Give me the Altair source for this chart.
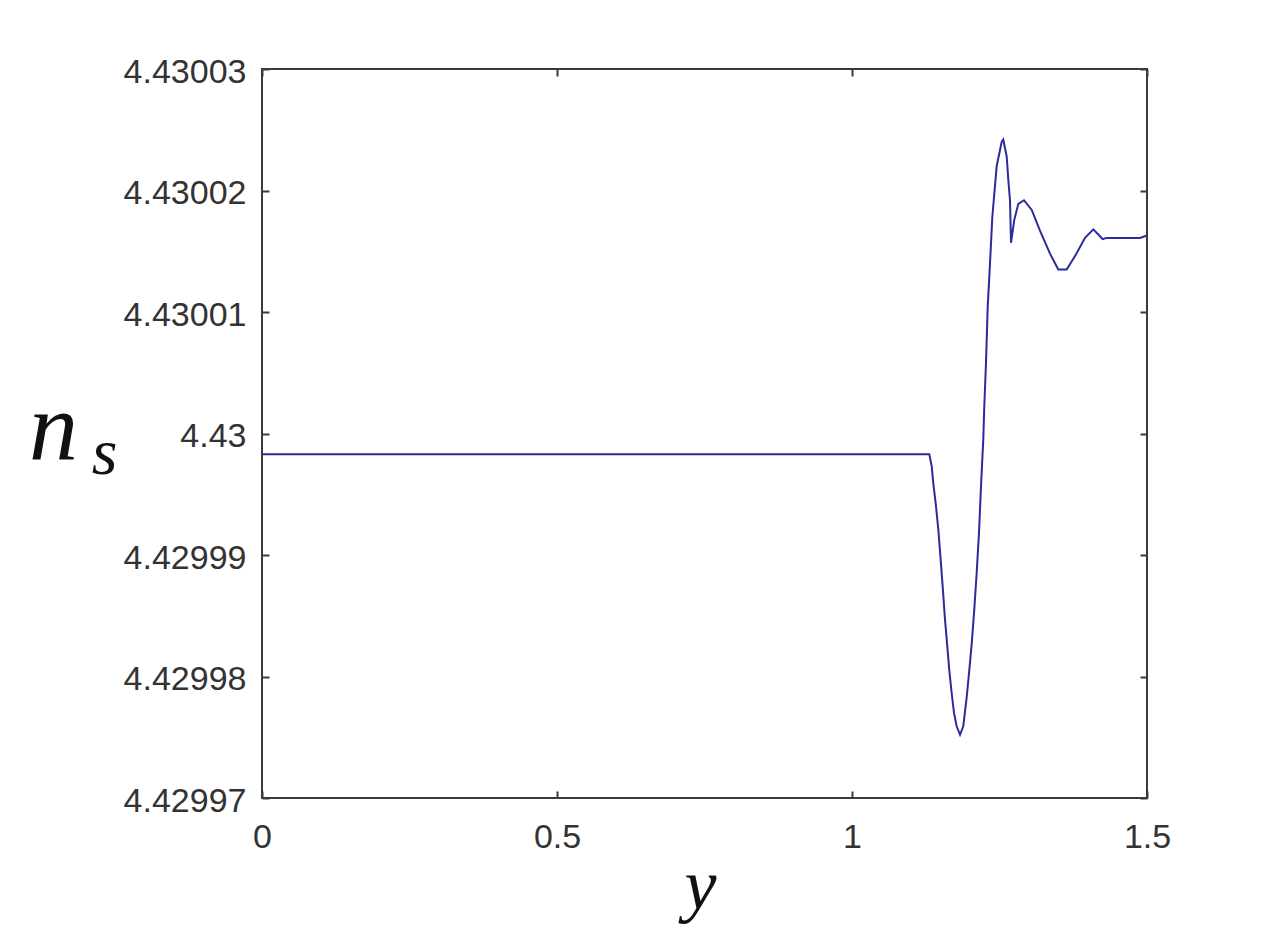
import altair as alt
import pandas as pd

# Curve values
y_pos = [0.0, 1.1310, 1.1351, 1.1378, 1.1424, 1.1463, 1.1503, 1.1537, 1.1576,
         1.1615, 1.1649, 1.1690, 1.1729, 1.1774, 1.1831, 1.1886, 1.1944, 1.1988,
         1.2029, 1.2068, 1.2113, 1.2152, 1.2186, 1.2225, 1.2242, 1.2271, 1.2300,
         1.2339, 1.2378, 1.2452, 1.2537, 1.2564, 1.2622, 1.2649, 1.2678, 1.2695,
         1.2751, 1.2819, 1.2915, 1.3046, 1.3186, 1.3356, 1.3496, 1.3639, 1.3780,
         1.3949, 1.4090, 1.4191, 1.4249, 1.4317, 1.4881, 1.5]
n_s = [4.4299983, 4.4299983, 4.4299973, 4.4299959, 4.4299940, 4.4299921,
       4.4299896, 4.4299874, 4.4299847, 4.4299825, 4.4299805, 4.4299786,
       4.4299770, 4.4299759, 4.4299752, 4.4299759, 4.4299783, 4.4299805,
       4.4299827, 4.4299852, 4.4299885, 4.4299918, 4.4299956, 4.4299995,
       4.4300022, 4.4300058, 4.4300104, 4.4300140, 4.4300178, 4.4300220,
       4.4300240, 4.4300242, 4.4300228, 4.4300209, 4.4300192, 4.4300157,
       4.4300176, 4.4300189, 4.4300192, 4.4300184, 4.4300167, 4.4300148,
       4.4300135, 4.4300135, 4.4300146, 4.4300161, 4.4300168, 4.4300163,
       4.4300160, 4.4300161, 4.4300161, 4.4300163]

x_ticks = [0, 0.5, 1, 1.5]
y_ticks = [4.42997, 4.42998, 4.42999, 4.43, 4.43001, 4.43002, 4.43003]

df = pd.DataFrame({"y": y_pos, "ns": n_s})

AX = "#3a3a3a"
TICK = 7
label_font = "Liberation Sans"
title_font = "Liberation Serif"

xs = alt.Scale(domain=[0, 1.5], nice=False, zero=False)
ys = alt.Scale(domain=[4.42997, 4.43003], nice=False, zero=False)

base = alt.Chart(df)

main = base.mark_line(color="#2b2b9c", strokeWidth=2).encode(
    x=alt.X("y:Q", scale=xs, axis=alt.Axis(
        orient="bottom", values=x_ticks, format="~g", domain=False,
        ticks=True, tickSize=TICK, offset=-TICK, tickColor=AX, tickWidth=2,
        grid=False, labelFont=label_font, labelFontSize=34, labelColor="#333333",
        labelPadding=22, labelFlush=False,
        title="y", titleFont=title_font, titleFontStyle="italic",
        titleFontWeight="normal", titleFontSize=72, titleColor="#111111",
        titleX=438, titleY=117, titleAlign="center", titleBaseline="alphabetic")),
    y=alt.Y("ns:Q", scale=ys, axis=alt.Axis(
        orient="left", values=y_ticks, format=".5~f", domain=False,
        ticks=True, tickSize=TICK, offset=-TICK, tickColor=AX, tickWidth=2,
        grid=False, labelFont=label_font, labelFontSize=34, labelColor="#333333",
        labelPadding=16, labelOffset=3, labelFlush=False,
        title="n", titleFont=title_font, titleFontStyle="italic",
        titleFontWeight="normal", titleFontSize=98, titleColor="#111111",
        titleAngle=0, titleX=-216, titleY=389, titleAlign="center",
        titleBaseline="alphabetic")),
)

frame = base.mark_line(opacity=0).encode(
    x=alt.X("y:Q", scale=xs, axis=alt.Axis(
        orient="top", values=x_ticks, labels=False, domain=False,
        ticks=True, tickSize=TICK, offset=-TICK, tickColor=AX, tickWidth=2,
        grid=False, title="")),
    y=alt.Y("ns:Q", scale=ys, axis=alt.Axis(
        orient="right", values=y_ticks, labels=False, domain=False,
        ticks=True, tickSize=TICK, offset=-TICK, tickColor=AX, tickWidth=2,
        grid=False,
        title="s", titleFont=title_font, titleFontStyle="italic",
        titleFontWeight="normal", titleFontSize=66, titleColor="#111111",
        titleAngle=0, titleX=-1036, titleY=404, titleAlign="center",
        titleBaseline="alphabetic")),
)

chart = alt.layer(main, frame).resolve_axis(
    x="independent", y="independent"
).properties(
    width=885, height=729,
    autosize=alt.AutoSizeParams(type="none"),
    padding={"left": 254, "top": 61, "right": 100, "bottom": 140},
    background="white",
).configure_view(stroke=AX, strokeWidth=2)

chart.save("out.html", embed_options={"renderer": "svg", "actions": False})
